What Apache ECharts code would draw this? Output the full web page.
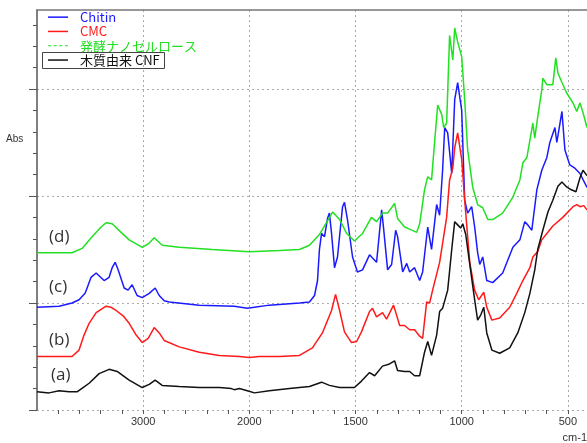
<!DOCTYPE html>
<html><head><meta charset="utf-8">
<script src="https://cdn.jsdelivr.net/npm/echarts/dist/echarts.min.js"></script>
<style>html,body{margin:0;padding:0;background:#fff}#c{width:587px;height:443px}</style>
</head><body><div id="c"></div>
<script>
// ---- data (wavenumber cm-1 / absorbance in grid units) ----
const seriesNames = ['Chitin', 'CMC', '発酵ナノセルロース', '木質由来 CNF'];
const seriesColors = ['#1a1aff', '#ff1a1a', '#22e022', '#111111'];
const curveLabels = ['(d)', '(c)', '(b)', '(a)'];

const chitinWn = [4000,3792,3670,3604,3547,3528,3491,3443,3368,3321,3292,3264,3236,3179,3142,3104,3057,3009,2943,2887,2849,2802,2755,2472,2142,2019,1976,1906,1764,1717,1693,1679,1670,1660,1646,1632,1623,1613,1599,1585,1561,1552,1538,1514,1491,1467,1434,1420,1401,1377,1368,1349,1330,1311,1302,1278,1259,1245,1222,1198,1184,1160,1142,1118,1104,1090,1080,1066,1047,1033,1019,1000,986,972,953,939,925,915,901,882,854,807,759,726,703,689,670,646,623,599,585,561,552,528,514,491,467,443,410];
const chitinAbs = [0.96,0.97,1.00,1.03,1.09,1.14,1.24,1.28,1.21,1.24,1.33,1.38,1.31,1.14,1.12,1.17,1.07,1.05,1.09,1.14,1.07,1.02,1.01,0.98,0.97,0.95,0.96,0.98,1.00,1.01,1.07,1.21,1.50,1.65,1.62,1.79,1.84,1.65,1.33,1.43,1.90,1.94,1.78,1.43,1.29,1.31,1.45,1.42,1.38,1.87,1.70,1.31,1.36,1.68,1.62,1.29,1.37,1.29,1.33,1.21,1.29,1.71,1.50,1.92,1.82,2.24,2.64,2.59,2.21,2.90,3.06,2.80,1.96,1.84,1.90,1.71,1.47,1.36,1.43,1.21,1.19,1.28,1.52,1.59,1.76,1.73,1.68,2.06,2.24,2.36,2.50,2.64,2.50,2.79,2.43,2.29,2.26,2.21,2.08];

const cmcWn = [4000,3670,3604,3557,3509,3443,3349,3302,3255,3189,3132,3066,3009,2953,2896,2849,2802,2660,2472,2283,2094,2000,1953,1858,1764,1703,1656,1613,1594,1575,1552,1519,1495,1472,1434,1420,1401,1373,1354,1321,1292,1269,1245,1222,1198,1184,1165,1151,1137,1104,1071,1057,1042,1033,1019,1000,986,962,939,920,896,882,858,821,774,741,712,679,665,642,623,599,571,524,476,458,443,425,410];
const cmcAbs = [0.50,0.50,0.56,0.70,0.81,0.91,0.97,0.96,0.93,0.88,0.81,0.70,0.63,0.67,0.77,0.72,0.65,0.59,0.54,0.51,0.50,0.49,0.50,0.50,0.51,0.58,0.72,0.93,1.08,0.93,0.73,0.63,0.64,0.73,0.92,0.95,0.87,0.91,0.85,0.98,0.79,0.79,0.75,0.75,0.69,0.67,1.01,1.00,1.12,1.38,1.80,2.15,2.26,2.45,2.59,2.34,1.96,1.38,1.12,1.03,1.10,0.96,0.84,0.86,0.96,1.09,1.21,1.33,1.43,1.48,1.59,1.65,1.72,1.80,1.90,1.92,1.90,1.91,1.87];

const fermWn = [4000,3670,3575,3481,3396,3349,3292,3208,3132,3009,2943,2896,2821,2660,2349,2000,1858,1764,1717,1670,1608,1575,1542,1505,1467,1425,1401,1373,1349,1316,1302,1269,1245,1212,1198,1175,1160,1142,1127,1113,1094,1085,1071,1057,1042,1033,1019,1000,986,972,948,925,901,877,854,807,759,726,712,693,679,665,656,642,623,618,599,571,557,547,528,505,476,458,443,429,410];
const fermAbs = [1.47,1.47,1.51,1.62,1.71,1.75,1.74,1.66,1.59,1.52,1.56,1.61,1.54,1.52,1.50,1.48,1.49,1.50,1.54,1.64,1.85,1.78,1.65,1.58,1.65,1.80,1.76,1.84,1.84,1.93,1.79,1.71,1.69,1.66,1.74,2.06,2.18,2.15,2.52,2.85,2.76,2.64,2.68,3.50,3.27,3.57,3.44,3.30,2.90,2.43,2.08,1.92,1.89,1.78,1.78,1.84,1.99,2.15,2.31,2.36,2.52,2.68,2.54,2.74,2.99,3.10,3.04,3.04,3.29,3.15,3.06,2.96,2.87,2.79,2.87,2.78,2.64];

const woodWn = [4000,3887,3792,3698,3623,3566,3509,3415,3321,3245,3132,3009,2943,2887,2821,2660,2472,2283,2170,2142,2094,2019,1976,1906,1811,1717,1660,1623,1575,1505,1472,1434,1410,1373,1340,1316,1302,1269,1245,1222,1198,1175,1160,1142,1118,1104,1090,1066,1047,1033,1019,1005,995,981,962,939,925,910,896,882,858,821,774,736,703,679,656,642,618,594,571,547,528,509,486,462,443,429,410];
const woodAbs = [0.17,0.16,0.18,0.17,0.17,0.21,0.25,0.34,0.38,0.36,0.28,0.21,0.24,0.28,0.23,0.22,0.21,0.21,0.20,0.19,0.20,0.18,0.16,0.18,0.20,0.22,0.26,0.23,0.21,0.21,0.27,0.35,0.32,0.41,0.43,0.46,0.37,0.36,0.36,0.32,0.32,0.54,0.64,0.51,0.70,0.92,0.95,1.12,1.50,1.76,1.73,1.70,1.74,1.64,1.36,1.03,0.84,0.89,0.96,0.72,0.56,0.53,0.58,0.72,0.91,1.09,1.31,1.50,1.68,1.85,1.96,2.09,2.13,2.09,2.06,2.04,2.17,2.24,2.19];

const xMajorTicks = [500, 1000, 1500, 2000, 3000];
const xMinorTicks = [600,700,800,900,1100,1200,1300,1400,1600,1700,1800,1900,2200,2400,2600,2800,3200,3400,3600,3800];
const yMajorTicks = [0, 1, 2, 3];
const yMinorTicks = [0.2,0.4,0.6,0.8,1.2,1.4,1.6,1.8,2.2,2.4,2.6,2.8,3.2,3.4,3.6];
const wnMin = 410, wnMax = 4000, absMax = 3.738;

// ---- split-scale axis (4000-2000 compressed by half) ----
function toU(w){ return w > 2000 ? 2000 + (w - 2000) / 2 : w; }
function fromU(u){ return u > 2000 ? 2000 + (u - 2000) * 2 : u; }
const uMin = toU(wnMin), uMax = toU(wnMax);

const allWn = [chitinWn, cmcWn, fermWn, woodWn];
const allAbs = [chitinAbs, cmcAbs, fermAbs, woodAbs];

const chart = echarts.init(document.getElementById('c'), null, {renderer: 'canvas'});
const axisColor = '#555';
const gridDash = {type: [2, 3], color: '#aaaaaa', width: 1};
const tickFont = {fontFamily: 'Liberation Sans', fontSize: 11, color: '#333'};
const solidIcon = 'rect';
const dashedIcon = 'path://M0 0H3V1H0ZM5.5 0H8.5V1H5.5ZM11 0H14V1H11ZM16.5 0H19.5V1H16.5Z';

const baseX = {type: 'value', inverse: true, min: uMin, max: uMax, gridIndex: 0};
const baseY = {type: 'value', min: 0, max: absMax, gridIndex: 0};

chart.setOption({
  animation: false,
  backgroundColor: '#fff',
  grid: [{left: 37, right: 0, top: 10, bottom: 33, containLabel: false}],
  xAxis: [
    Object.assign({}, baseX, {
      position: 'bottom',
      axisLine: {show: false},
      axisTick: {show: true, customValues: xMajorTicks.map(toU), length: 4, lineStyle: {color: axisColor}},
      axisLabel: {show: true, customValues: xMajorTicks.map(toU), margin: 6, formatter: v => String(Math.round(fromU(v))), ...tickFont},
      splitLine: {show: true, lineStyle: gridDash}
    }),
    Object.assign({}, baseX, {
      position: 'bottom',
      axisLine: {show: false},
      axisTick: {show: true, customValues: xMinorTicks.map(toU), length: 4, lineStyle: {color: axisColor}},
      axisLabel: {show: false},
      splitLine: {show: false}
    }),
    Object.assign({}, baseX, {
      position: 'top',
      axisLine: {show: true, lineStyle: {color: '#777', width: 1.5}},
      axisTick: {show: false}, axisLabel: {show: false}, splitLine: {show: false}
    })
  ],
  yAxis: [
    Object.assign({}, baseY, {
      position: 'left',
      axisLine: {show: true, lineStyle: {color: axisColor, width: 1.5}},
      axisTick: {show: true, customValues: yMajorTicks, length: 8, lineStyle: {color: axisColor}},
      axisLabel: {show: false},
      splitLine: {show: true, lineStyle: gridDash}
    }),
    Object.assign({}, baseY, {
      position: 'left',
      axisLine: {show: false},
      axisTick: {show: true, customValues: yMinorTicks, length: 4, lineStyle: {color: axisColor}},
      axisLabel: {show: false},
      splitLine: {show: false}
    })
  ],
  legend: {
    orient: 'vertical', left: 48, top: 10, padding: 0,
    itemWidth: 20, itemHeight: 1.5, itemGap: 0,
    textStyle: {fontFamily: 'Noto Sans CJK JP', fontSize: 13, lineHeight: 14.3, padding: [0, 0, 0, 7]},
    data: seriesNames.map((n, i) => ({
      name: n,
      icon: i === 2 ? dashedIcon : solidIcon,
      itemStyle: {color: seriesColors[i], borderWidth: 0},
      textStyle: {color: seriesColors[i]}
    }))
  },
  graphic: [
    {type: 'rect', shape: {x: 42.5, y: 52.5, width: 122, height: 16}, style: {fill: 'none', stroke: '#444', lineWidth: 1}, z: 100},
    {type: 'text', left: 6, top: 134, style: {text: 'Abs', font: '10px "Liberation Sans"', fill: '#333'}},
    {type: 'text', right: 0, top: 432, style: {text: 'cm-1', font: '11px "Liberation Sans"', fill: '#333'}},
    {type: 'text', left: 49, top: 229, style: {text: curveLabels[0], font: '17px "Open Sans"', fill: '#333'}},
    {type: 'text', left: 49, top: 279, style: {text: curveLabels[1], font: '17px "Open Sans"', fill: '#333'}},
    {type: 'text', left: 49, top: 332, style: {text: curveLabels[2], font: '17px "Open Sans"', fill: '#333'}},
    {type: 'text', left: 51, top: 367, style: {text: curveLabels[3], font: '17px "Open Sans"', fill: '#333'}}
  ],
  series: seriesNames.map((n, i) => ({
    name: n, type: 'line', xAxisIndex: 0, yAxisIndex: 0,
    symbol: 'none', smooth: false,
    lineStyle: {color: seriesColors[i], width: 1.5},
    itemStyle: {color: seriesColors[i]},
    data: allWn[i].map((w, k) => [toU(w), allAbs[i][k]])
  }))
});
</script></body></html>
